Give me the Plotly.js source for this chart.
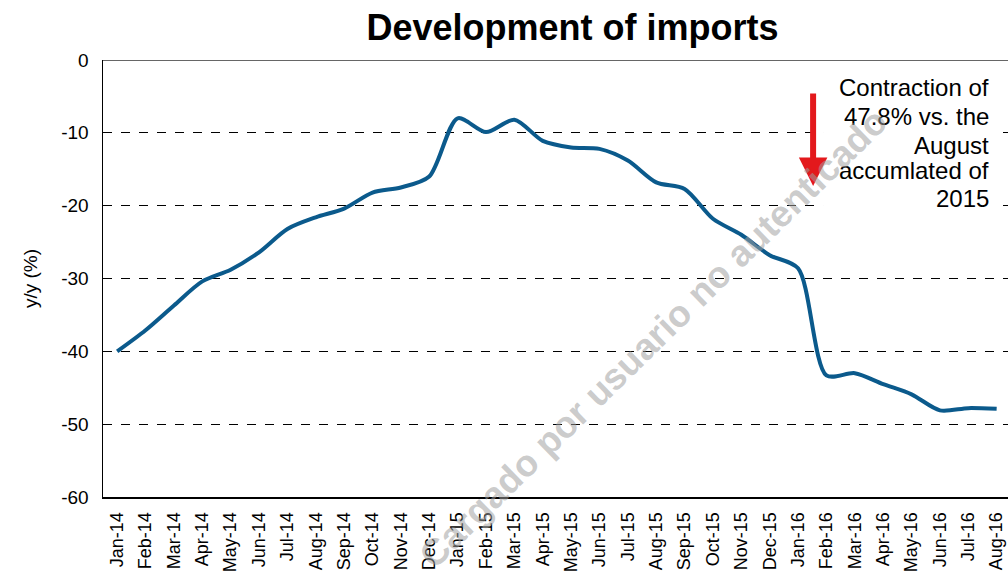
<!DOCTYPE html>
<html>
<head>
<meta charset="utf-8">
<script src="https://cdn.plot.ly/plotly-3.0.1.min.js"></script>
<style>html,body{margin:0;padding:0;background:#fff;}#chart{width:1008px;height:575px;}</style>
</head>
<body>
<div id="chart"></div>
<script>
const months = ["Jan-14","Feb-14","Mar-14","Apr-14","May-14","Jun-14","Jul-14","Aug-14","Sep-14","Oct-14","Nov-14","Dec-14",
  "Jan-15","Feb-15","Mar-15","Apr-15","May-15","Jun-15","Jul-15","Aug-15","Sep-15","Oct-15","Nov-15","Dec-15",
  "Jan-16","Feb-16","Mar-16","Apr-16","May-16","Jun-16","Jul-16","Aug-16"];
const imports = [-40.0,-37.1,-33.7,-30.4,-28.8,-26.4,-23.2,-21.6,-20.4,-18.2,-17.5,-16.0,
  -8.0,-9.9,-8.2,-11.1,-12.0,-12.2,-13.8,-16.8,-17.7,-21.8,-24.0,-26.8,
  -28.6,-43.3,-43.0,-44.5,-45.9,-48.1,-47.8,-47.9];
const yTicks = [0,-10,-20,-30,-40,-50,-60];
const titleText = "Development of imports";
const yTitle = "y/y (%)";
const noteLines = ["Contraction of","47.8% vs. the","August","accumlated of","2015"];
const watermark = "Cargado por usuario no autenticado";

const noteY = [0.936,0.870,0.805,0.748,0.684];
const annotations = noteLines.map((t,i)=>({
  xref:'paper', yref:'paper', x:0.981, y:noteY[i], xanchor:'right', yanchor:'middle',
  text:t, showarrow:false, font:{family:'Liberation Sans, Arial, sans-serif', size:24, color:'#000'}
}));
annotations.push({
  xref:'x', yref:'y', x:24.53, y:-17.3, axref:'x', ayref:'y', ax:24.53, ay:-4.4,
  text:'', showarrow:true, arrowhead:2, arrowsize:0.95, arrowwidth:6, arrowcolor:'#e3191c', standoff:0
});
annotations.push({
  xref:'paper', yref:'paper', x:0.608, y:0.362, xanchor:'center', yanchor:'middle',
  text:'<b>'+watermark+'</b>', showarrow:false, textangle:-44.4,
  font:{family:'Liberation Sans, Arial, sans-serif', size:37, color:'rgba(160,160,160,0.55)'}
});

const trace = {
  x: months, y: imports, type:'scatter', mode:'lines',
  line:{color:'#0b5a8c', width:4, shape:'spline', smoothing:0.8},
  hoverinfo:'skip'
};

const layout = {
  width:1008, height:575,
  margin:{l:103, r:0, t:60, b:78},
  paper_bgcolor:'#fff', plot_bgcolor:'#fff',
  font:{family:'Liberation Sans, Arial, sans-serif', color:'#000'},
  showlegend:false,
  title:{text:'<b>'+titleText+'</b>', x:0.568, xref:'container', y:0.953, yref:'container', yanchor:'middle', xanchor:'center',
    font:{size:36, color:'#000', family:'Liberation Sans, Arial, sans-serif'}},
  xaxis:{type:'category', range:[-0.5,31.4], tickangle:-90, tickfont:{size:18}, showgrid:false, zeroline:false,
    showline:true, linecolor:'#000', linewidth:2, ticks:'', ticklabelstandoff:6, fixedrange:true},
  yaxis:{range:[-60,0], tickvals:yTicks, ticktext:yTicks.map(String), tickfont:{size:19},
    showgrid:true, gridcolor:'#000', gridwidth:1, griddash:'dash', zeroline:false,
    showline:true, linecolor:'#000', linewidth:1.5, ticks:'', ticklabelstandoff:9,
    title:{text:yTitle, font:{size:19}, standoff:18}, fixedrange:true},
  shapes:[
    {type:'line', xref:'paper', yref:'y', x0:0, x1:1, y0:0, y1:0, line:{color:'#333', width:1.5}},
    {type:'rect', xref:'paper', yref:'paper', x0:0.7956, x1:0.9912, y0:0.652, y1:0.966, layer:'above',
     fillcolor:'#fff', line:{width:0}}
  ],
  annotations: annotations
};
Plotly.newPlot('chart',[trace],layout,{displayModeBar:false, staticPlot:true});
</script>
</body>
</html>
